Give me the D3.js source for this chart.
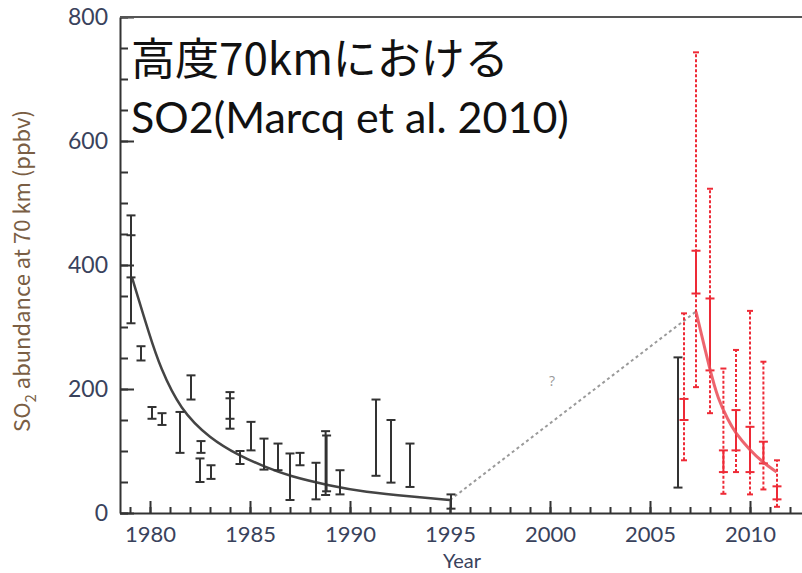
<!DOCTYPE html>
<html lang="ja">
<head>
<meta charset="UTF-8">
<title>SO2 at 70 km</title>
<style>
    body { margin: 0; background: #fff; }
    svg { display: block; }
    .tick text { fill: #39425c; font-family: Lato, 'Open Sans', sans-serif; }
</style>
</head>
<body>
<div id="chart"></div>
<script src="https://d3js.org/d3.v7.min.js"></script>
<script>
    // ground-based / Pioneer Venus measurements (black)
    const blackYears = [1979.05, 1979.05, 1979.55, 1980.1, 1980.6, 1981.5, 1982.05, 1982.55, 1982.5, 1983.05,
        1984.0, 1984.0, 1984.5, 1985.05, 1985.7, 1986.4, 1987.0, 1987.5, 1988.3, 1988.78, 1988.83,
        1989.5, 1991.3, 1992.05, 1993.0, 1995.05, 2006.4];
    const blackLow = [306, 380, 246, 152, 142, 97, 183, 97, 50, 55,
        136, 152, 79, 101, 70, 69, 21, 77, 22, 29, 35,
        30, 60, 49, 42, 7, 41];
    const blackHigh = [448, 480, 269, 171, 161, 163, 222, 116, 88, 77,
        185, 195, 100, 147, 120, 112, 96, 97, 81, 132, 125,
        69, 183, 150, 112, 30, 251];

    // SPICAV measurements (red): solid = error, dotted = variability
    const redYears = [2006.7, 2007.3, 2008.0, 2008.67, 2009.3, 2010.0, 2010.67, 2011.35];
    const redSolidLow = [150, 354, 230, 66, 101, 66, 80, 22];
    const redSolidHigh = [184, 423, 346, 101, 166, 139, 115, 43];
    const redDotLow = [85, 203, 161, 31, 66, 30, 38, 10];
    const redDotHigh = [322, 743, 523, 233, 263, 326, 244, 85];

    // fitted decay curves
    const blackFitYears = [1979.1, 1980, 1980.5, 1981.5, 1983, 1984.5, 1985.7, 1987, 1989, 1990.7, 1993.2, 1995];
    const blackFitValues = [380, 284, 236, 167, 120, 92, 75, 59, 44, 34, 26, 21];
    const redFitYears = [2007.3, 2008.0, 2008.4, 2008.9, 2009.25, 2010.0, 2010.67, 2011.33];
    const redFitValues = [325, 230, 184, 150, 130, 101, 81, 66];
    const gapYears = [1995, 2007.3];
    const gapValues = [21, 325];

    const xTicks = [1980, 1985, 1990, 1995, 2000, 2005, 2010];
    const yTicks = [0, 200, 400, 600, 800];

    const width = 802;
    const height = 573;

    const svg = d3.select("#chart")
        .append("svg")
        .attr("width", width)
        .attr("height", height);

    const x = d3.scaleLinear().domain([1978.5, 2013.5]).range([120, 820]);
    const y = d3.scaleLinear().domain([0, 800]).range([513, 17]);

    // minor ticks
    svg.append("g")
        .attr("transform", `translate(0,${y(0)})`)
        .call(d3.axisBottom(x).tickValues(d3.range(1979, 2014)).tickSize(-6).tickFormat(""))
        .call(g => g.select(".domain").remove());
    svg.append("g")
        .attr("transform", `translate(${x(1978.5)},0)`)
        .call(d3.axisLeft(y).tickValues(d3.range(0, 801, 50)).tickSize(-8).tickFormat(""))
        .call(g => g.select(".domain").remove());

    // major ticks + labels
    const xAxis = svg.append("g")
        .attr("transform", `translate(0,${y(0)})`)
        .call(d3.axisBottom(x).tickValues(xTicks).tickSize(-12).tickSizeOuter(0).tickPadding(9).tickFormat(d3.format("d")));
    xAxis.selectAll(".tick text").attr("font-size", 22).attr("dy", "0.92em");

    const yAxis = svg.append("g")
        .attr("transform", `translate(${x(1978.5)},0)`)
        .call(d3.axisLeft(y).tickValues(yTicks).tickSize(-14).tickSizeOuter(0).tickPadding(12));
    yAxis.selectAll(".tick text").attr("font-size", 23);

    svg.selectAll(".tick line, .domain").attr("stroke", "#333").attr("stroke-width", 2);

    // top frame
    svg.append("line")
        .attr("x1", x(1978.5)).attr("x2", width)
        .attr("y1", y(800)).attr("y2", y(800))
        .attr("stroke", "#555").attr("stroke-width", 2);

    // axis titles
    const yLabel = svg.append("text")
        .attr("transform", `translate(30,271) rotate(-90)`)
        .attr("text-anchor", "middle")
        .attr("fill", "#7a5e44")
        .attr("font-family", "'Noto Sans CJK JP', sans-serif")
        .attr("font-size", 22);
    yLabel.append("tspan").text("SO");
    yLabel.append("tspan").attr("font-size", 15).attr("dy", 6).text("2");
    yLabel.append("tspan").attr("dy", -6).text(" abundance at 70 km (ppbv)");

    svg.append("text")
        .attr("x", 462).attr("y", 568)
        .attr("text-anchor", "middle")
        .attr("fill", "#39425c")
        .attr("font-family", "Lato, sans-serif")
        .attr("font-size", 20)
        .text("Year");

    // dotted link between the two epochs
    svg.append("path")
        .attr("d", d3.line().x(i => x(gapYears[i])).y(i => y(gapValues[i]))(d3.range(gapYears.length)))
        .attr("fill", "none")
        .attr("stroke", "#9a9a9a")
        .attr("stroke-width", 2)
        .attr("stroke-dasharray", "3,3");

    svg.append("text")
        .attr("x", x(2000.1)).attr("y", y(205))
        .attr("text-anchor", "middle")
        .attr("fill", "#999")
        .attr("font-family", "'Open Sans', sans-serif")
        .attr("font-size", 14)
        .text("?");

    // fit curves
    svg.append("path")
        .attr("d", d3.line().curve(d3.curveBasis)
            .x(i => x(blackFitYears[i])).y(i => y(blackFitValues[i]))(d3.range(blackFitYears.length)))
        .attr("fill", "none")
        .attr("stroke", "#444")
        .attr("stroke-width", 2.5);

    // error bar helper
    function errorBar(g, xv, lo, hi, cap, color, w, dash) {
        g.append("line")
            .attr("x1", x(xv)).attr("x2", x(xv))
            .attr("y1", y(lo)).attr("y2", y(hi))
            .attr("stroke", color).attr("stroke-width", w)
            .attr("stroke-dasharray", dash);
        [lo, hi].forEach(v => {
            g.append("line")
                .attr("x1", x(xv) - cap).attr("x2", x(xv) + cap)
                .attr("y1", y(v)).attr("y2", y(v))
                .attr("stroke", color).attr("stroke-width", w);
        });
    }

    const bars = svg.append("g");
    blackYears.forEach((yr, i) => errorBar(bars, yr, blackLow[i], blackHigh[i], 4.5, "#333", 2, null));

    const red = svg.append("g");
    redYears.forEach((yr, i) => errorBar(red, yr, redDotLow[i], redDotHigh[i], 3, "#ee2a36", 2, "3,2"));
    redYears.forEach((yr, i) => errorBar(red, yr, redSolidLow[i], redSolidHigh[i], 4.5, "#ee2a36", 2, null));

    svg.append("path")
        .attr("d", d3.line().curve(d3.curveBasis)
            .x(i => x(redFitYears[i])).y(i => y(redFitValues[i]))(d3.range(redFitYears.length)))
        .attr("fill", "none")
        .attr("stroke", "#ea4a55")
        .attr("stroke-opacity", 0.85)
        .attr("stroke-width", 3);

    // title, two lines
    svg.append("text")
        .attr("x", 131).attr("y", 75)
        .attr("font-family", "'Noto Sans CJK JP', sans-serif")
        .attr("font-size", 44)
        .attr("fill", "#111")
        .text("高度70kmにおける");
    svg.append("text")
        .attr("x", 131).attr("y", 133)
        .attr("font-family", "Lato, sans-serif")
        .attr("font-size", 43)
        .attr("fill", "#111")
        .text("SO2(Marcq et al. 2010)");
</script>
</body>
</html>
